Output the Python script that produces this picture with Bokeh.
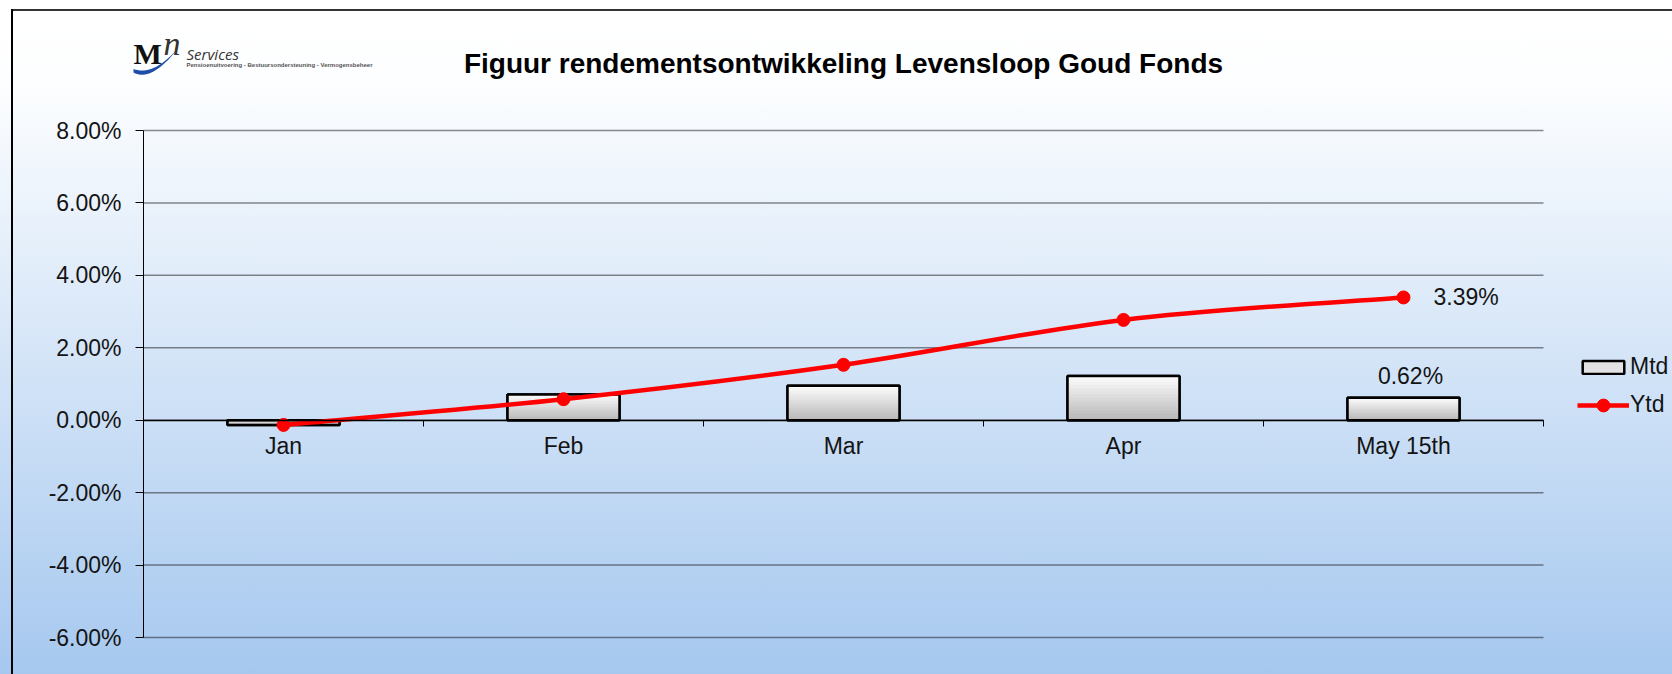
import numpy as np
from bokeh.plotting import figure
from bokeh.models import (Range1d, FixedTicker, LinearAxis, PrintfTickFormatter,
                          Legend, LegendItem, ColumnDataSource)
from bokeh.embed import file_html
from bokeh.resources import INLINE
from bokeh.core.properties import value

# ---------------- data ----------------
months = ["Jan", "Feb", "Mar", "Apr", "May 15th"]
mtd = [-0.13, 0.71, 0.95, 1.22, 0.62]      # monthly return, %
ytd = [-0.13, 0.58, 1.53, 2.77, 3.39]      # year-to-date return, %
y_ticks = [-6, -4, -2, 0, 2, 4, 6, 8]
title_text = "Figuur rendementsontwikkeling Levensloop Goud Fonds"
logo_tagline = "Pensioenuitvoering - Bestuursondersteuning - Vermogensbeheer"

FONT = "Liberation Sans"
TXT = "#141414"

# ---------------- layout (frame covers the whole canvas) ----------------
W, H = 1672, 674
PL, PR = 143.0, 1543.0      # page x of category-axis start / end
PT, PB = 130.0, 637.0       # page y of top / bottom tick
NC = len(months)
YMIN, YMAX = min(y_ticks), max(y_ticks)
kx = (PR - PL) / NC
ky = (PB - PT) / (YMAX - YMIN)

x_range = Range1d(-PL / kx, NC + (W - PR) / kx)
y_range = Range1d(YMIN - (H - PB) / ky, YMAX + PT / ky)


def X(px):
    return (px - PL) / kx


def Y(py):
    return YMAX - (py - PT) / ky


xs = [i + 0.5 for i in range(NC)]

p = figure(width=W, height=H, output_backend="svg", toolbar_location=None, tools="",
           x_range=x_range, y_range=y_range,
           min_border_left=0, min_border_right=0, min_border_top=0, min_border_bottom=0,
           background_fill_color=None, border_fill_color=None, outline_line_color=None)

p.styles = {
    "background": ("linear-gradient(#000,#000) 11px 9px / 2px 100% no-repeat, "
                   "linear-gradient(#333,#333) 11px 9px / 100% 2px no-repeat, "
                   "linear-gradient(to bottom, #ffffff 0px, #fdfeff 80px, #a6c8ef 674px)")
}

# y axis at x = 0
p.yaxis.fixed_location = 0
p.yaxis.bounds = (YMIN, YMAX)
p.yaxis.ticker = FixedTicker(ticks=y_ticks)
p.yaxis.formatter = PrintfTickFormatter(format="%.2f%%")
p.yaxis.major_tick_out = 8
p.yaxis.major_tick_in = 0
p.yaxis.minor_tick_line_color = None
p.yaxis.major_label_standoff = 14
p.yaxis.major_label_text_font = FONT
p.yaxis.major_label_text_font_size = "23px"
p.yaxis.major_label_text_color = TXT
p.yaxis.axis_line_color = "black"
p.yaxis.major_tick_line_color = "black"

p.xgrid.visible = False
p.ygrid.visible = False

# horizontal gridlines across the category span
p.segment(x0=[0] * len(y_ticks), x1=[NC] * len(y_ticks), y0=y_ticks, y1=y_ticks,
          line_color="black", line_alpha=0.45, line_width=1.5)

# x axis (labels) crossing at 0
p.xaxis.fixed_location = 0
p.xaxis.bounds = (0, NC)
p.xaxis.ticker = FixedTicker(ticks=xs)
p.xaxis.major_label_overrides = {x: m for x, m in zip(xs, months)}
p.xaxis.major_tick_line_color = None
p.xaxis.major_tick_out = 0
p.xaxis.major_tick_in = 0
p.xaxis.minor_tick_line_color = None
p.xaxis.axis_line_color = "black"
p.xaxis.axis_line_width = 1.5
p.xaxis.major_label_standoff = 13
p.xaxis.major_label_text_font = FONT
p.xaxis.major_label_text_font_size = "23px"
p.xaxis.major_label_text_color = TXT

# x axis (category boundary ticks)
ax2 = LinearAxis(ticker=FixedTicker(ticks=list(range(NC + 1))), fixed_location=0,
                 bounds=(0, NC), major_tick_out=6, major_tick_in=0,
                 major_tick_line_color="black", minor_tick_line_color=None,
                 axis_line_color=None, major_label_text_color=None,
                 major_label_text_font_size="1px")
p.add_layout(ax2, "below")

# ---------------- bars (Mtd) ----------------
BW = 0.4
bar_leg = p.vbar(x=xs, top=mtd, bottom=0, width=BW, fill_color="#e2e2e2",
                 line_color="black", line_width=2.5)

N = 14
sx_, sb_, st_, sc_ = [], [], [], []
for x, v in zip(xs, mtd):
    for k in range(N):
        if v >= 0:
            top = v * (N - k) / N
            bot = v * (N - k - 1) / N
        else:
            top = v * k / N
            bot = v * (k + 1) / N
        t = k / (N - 1)
        g = int(round(252 - t * (252 - 186)))
        sx_.append(x); st_.append(top); sb_.append(bot)
        sc_.append("#%02x%02x%02x" % (g, g, g))
src = ColumnDataSource(dict(x=sx_, top=st_, bottom=sb_, color=sc_))
p.vbar(x="x", top="top", bottom="bottom", width=BW, fill_color="color", line_color="color",
       line_width=0.6, source=src)
p.vbar(x=xs, top=mtd, bottom=0, width=BW, fill_color=None, line_color="black", line_width=2.5)

# ---------------- smooth line (Ytd) ----------------
P = np.column_stack([xs, ytd]).astype(float)
ext = np.vstack([P[0], P, P[-1]])
c0 = P[:-1] + (ext[2:-1] - ext[0:-3]) / 6.0
c1 = P[1:] - (ext[3:] - ext[1:-2]) / 6.0
curve = p.bezier(x0=P[:-1, 0], y0=P[:-1, 1], x1=P[1:, 0], y1=P[1:, 1],
                 cx0=c0[:, 0], cy0=c0[:, 1], cx1=c1[:, 0], cy1=c1[:, 1],
                 line_color="#ff0000", line_width=4.5)
dots = p.scatter(x=xs, y=ytd, size=13, fill_color="#ff0000", line_color="#ff0000")

# data labels
p.text(x=[xs[-1]], y=[ytd[-1]], text=["%.2f%%" % ytd[-1]], x_offset=30,
       text_align="left", text_baseline="middle", text_font=value(FONT),
       text_font_size="23px", text_color=TXT)
p.text(x=[xs[-1]], y=[mtd[-1]], text=["%.2f%%" % mtd[-1]], x_offset=7, y_offset=-22,
       text_align="center", text_baseline="alphabetic", text_font=value(FONT),
       text_font_size="23px", text_color=TXT)

# ---------------- legends (separate so each glyph gets its own size) ----------------
common = dict(orientation="vertical", padding=0, spacing=0, glyph_width=52, label_standoff=1,
              label_text_font=FONT, label_text_font_size="23px", label_text_color=TXT,
              border_line_color=None, background_fill_alpha=0, margin=0)
leg_mtd = Legend(items=[LegendItem(label="Mtd", renderers=[bar_leg])],
                 location=(1577, H - 380), glyph_height=16, label_height=24, **common)
leg_ytd = Legend(items=[LegendItem(label="Ytd", renderers=[curve, dots])],
                 location=(1577, H - 420.7), glyph_height=32, label_height=24, **common)
p.add_layout(leg_mtd)
p.add_layout(leg_ytd)

# ---------------- title & logo ----------------
p.text(x=[NC / 2], y=[Y(63.3)], text=[title_text], text_align="center",
       text_baseline="alphabetic", text_font=value(FONT), text_font_size="28px",
       text_font_style="bold", text_color="black")

p.text(x=[X(133)], y=[Y(53)], text=["M"], text_baseline="alphabetic",
       text_font=value("Liberation Serif"), text_font_size="30px",
       text_font_style="bold", text_color="#111111")
p.text(x=[X(163)], y=[Y(43)], text=["n"], text_baseline="alphabetic",
       text_font=value("Liberation Serif"), text_font_size="34px",
       text_font_style="italic", text_color="#333333")
p.text(x=[X(186)], y=[Y(53)], text=["Services"], text_baseline="alphabetic",
       text_font=value("Open Sans"), text_font_size="15px",
       text_font_style="italic", text_color="#333333")
p.text(x=[X(186)], y=[Y(64.5)], text=[logo_tagline], text_baseline="alphabetic",
       text_font=value("Liberation Sans"), text_font_size="6px",
       text_font_style="bold", text_color="#555555")

# swoosh of the logo
tt = np.linspace(0, 1, 20)


def qb(a, c, b):
    a, c, b = map(np.array, (a, c, b))
    return ((1 - tt)[:, None] ** 2) * a + 2 * ((1 - tt) * tt)[:, None] * c + (tt[:, None] ** 2) * b


low = qb((133, 72), (150, 81.5), (175, 51))
up = qb((175, 50.5), (152, 75.5), (133, 68.5))
poly = np.vstack([low, up])
p.patch(x=[X(v) for v in poly[:, 0]], y=[Y(v) for v in poly[:, 1]],
        fill_color="#1f4fa5", line_color=None)

open("out.html", "w").write(file_html(p, INLINE))
